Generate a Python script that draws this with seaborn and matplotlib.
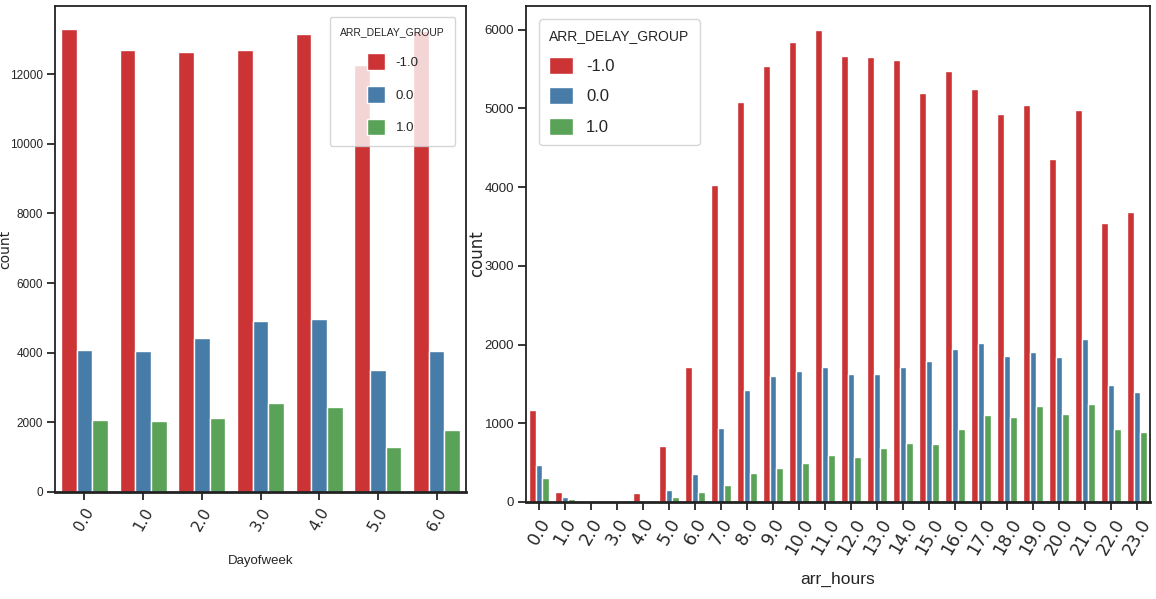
import pandas as pd
import seaborn as sns
import matplotlib.pyplot as plt

# counts by day of week, one list per ARR_DELAY_GROUP
days = ['0.0', '1.0', '2.0', '3.0', '4.0', '5.0', '6.0']
day_early = [13290, 12680, 12640, 12680, 13150, 12250, 13230]
day_ontime = [4075, 4038, 4433, 4913, 4981, 3500, 4038]
day_late = [2077, 2039, 2115, 2547, 2443, 1289, 1788]

# counts by arrival hour
hours = ['%d.0' % h for h in range(24)]
hour_early = [1170, 133, 5, 3, 120, 709, 1711, 4028, 5082, 5543, 5842, 6000,
              5671, 5658, 5612, 5193, 5475, 5245, 4933, 5044, 4357, 4980, 3538, 3687]
hour_ontime = [466, 69, 3, 2, 18, 150, 350, 940, 1417, 1596, 1664, 1711,
               1630, 1630, 1711, 1792, 1938, 2022, 1856, 1907, 1843, 2070, 1481, 1395]
hour_late = [300, 35, 2, 1, 5, 69, 133, 214, 364, 428, 495, 594,
             576, 691, 755, 742, 922, 1101, 1084, 1216, 1119, 1251, 922, 888]

groups = ['-1.0', '0.0', '1.0']


def to_long(cats, col, series):
    rows = []
    for g, vals in zip(groups, series):
        for c, v in zip(cats, vals):
            rows.append({col: c, 'ARR_DELAY_GROUP': g, 'count': v})
    return pd.DataFrame(rows)


df_day = to_long(days, 'Dayofweek', [day_early, day_ontime, day_late])
df_hour = to_long(hours, 'arr_hours', [hour_early, hour_ontime, hour_late])

sns.set_style('ticks')
narrow = ['Liberation Sans', 'DejaVu Sans']
plt.rcParams['font.family'] = ['DejaVu Sans']

fig = plt.figure(figsize=(11.56, 5.99), dpi=100)
ax1 = fig.add_axes([55 / 1156, 107 / 599, 411 / 1156, 486 / 599])
ax2 = fig.add_axes([526 / 1156, 97 / 599, 624 / 1156, 496 / 599])


def draw(ax, df, col, ytick_fs, xtick_fs, xlab_fs, xlab_y, ylab_fs, ylab_x,
         leg_loc, title_fs, leg_fs, spacing, hh, bpad, align):
    sns.barplot(data=df, x=col, y='count', hue='ARR_DELAY_GROUP',
                hue_order=groups, palette='Set1', ax=ax)
    for sp in ax.spines.values():
        sp.set_visible(True)
        sp.set_linewidth(1.3)
        sp.set_color('#222222')
    ax.spines['bottom'].set_linewidth(2)
    ax.tick_params(length=6, width=1.3)
    ax.tick_params(axis='y', pad=2.5)
    for t in ax.get_yticklabels():
        t.set_fontfamily(narrow)
        t.set_fontsize(ytick_fs)
    for t in ax.get_xticklabels():
        t.set_rotation(60)
        t.set_fontsize(xtick_fs)
    ax.set_xlabel(col, fontfamily=narrow, fontsize=xlab_fs)
    ax.xaxis.set_label_coords(0.5, xlab_y)
    ax.set_ylabel('count', fontsize=ylab_fs)
    ax.yaxis.set_label_coords(ylab_x, 0.5)
    leg = ax.legend(title='ARR_DELAY_GROUP', loc=leg_loc,
                    title_fontsize=title_fs, handlelength=1.4, handleheight=hh,
                    labelspacing=spacing, borderaxespad=0.8, borderpad=bpad,
                    alignment=align, prop={'family': narrow, 'size': leg_fs})
    leg.get_title().set_fontfamily(narrow)


draw(ax1, df_day, 'Dayofweek', 8.5, 11, 9.5, -0.13, 10, -0.105,
     'upper right', 7.5, 9.5, 1.2, 1.6, 0.8, 'center')
draw(ax2, df_hour, 'arr_hours', 9.5, 12.5, 12.5, -0.14, 12, -0.064,
     'upper left', 10, 12, 0.8, 1.2, 0.6, 'left')

fig.savefig('out.png', dpi=100)
